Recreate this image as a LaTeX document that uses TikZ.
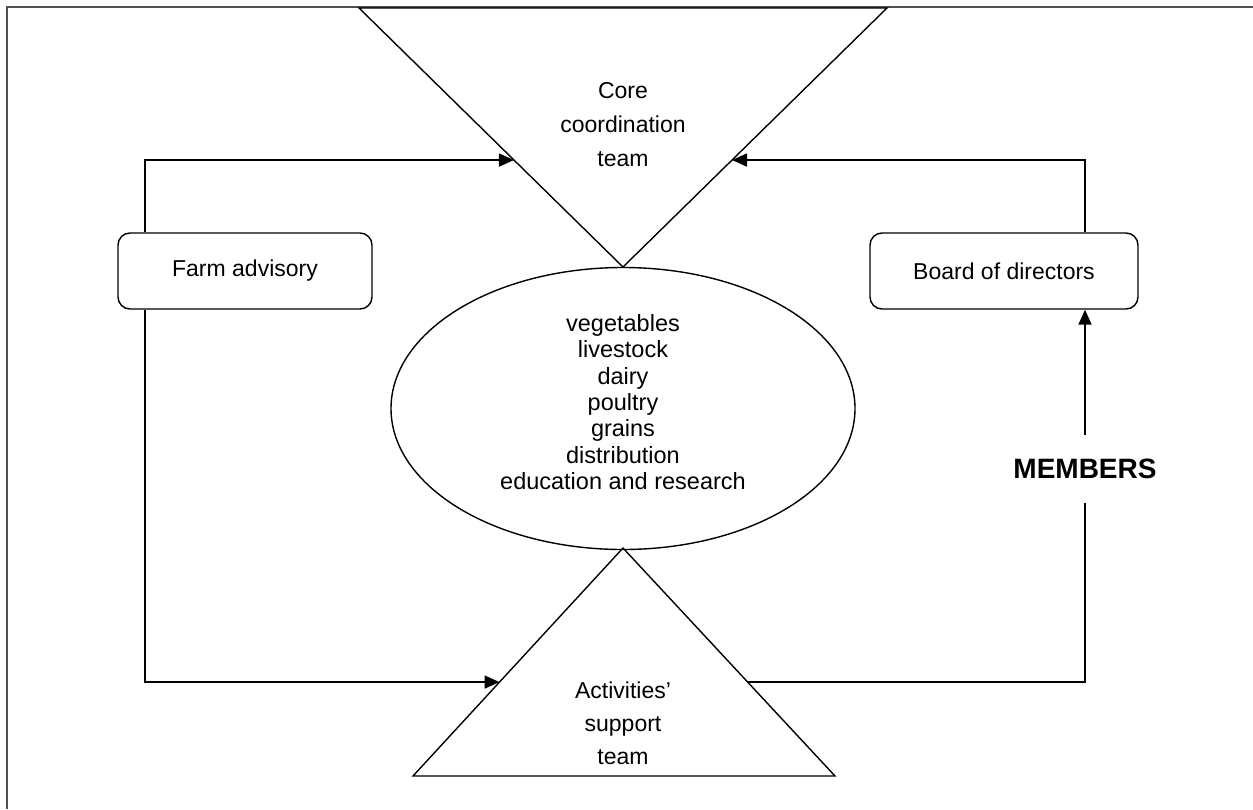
\documentclass[tikz,border=0pt]{standalone}
\usepackage{fontspec}
\setmainfont{Liberation Sans}
\usetikzlibrary{shapes.geometric,arrows.meta,calc}
\definecolor{framegray}{HTML}{505050}
\begin{document}
\begin{tikzpicture}[x=1pt,y=-1pt,
  conn/.style={line width=1.8pt},
  tip/.style={-{Triangle[length=15pt,width=13pt]}},
  shapeline/.style={line width=1.4pt},
  box/.style={draw,line width=1.4pt,rounded corners=12pt,minimum width=254pt,minimum height=76pt,font=\fontsize{23}{26}\selectfont},
  lbl/.style={align=center,font=\fontsize{23}{34}\selectfont}]
\useasboundingbox (0,0) rectangle (1253,809);
\fill[white] (0,0) rectangle (1253,809);
% frame
\draw[framegray,line width=2.4pt] (7,809) -- (7,7) -- (1253,7);
% top triangle
\coordinate (ctl) at (359,8);
\coordinate (ctr) at (887,8);
\coordinate (capex) at (623,267);
\draw[shapeline,line join=miter] (ctl) -- (ctr) -- (capex) -- cycle;
\node[lbl] (core) at (623,125) {Core\\coordination\\team};
% bottom triangle
\coordinate (abl) at (413,776);
\coordinate (abr) at (835,776);
\coordinate (aapex) at (623,548);
\draw[shapeline,line join=miter] (abl) -- (abr) -- (aapex) -- cycle;
\node[lbl,font=\fontsize{23}{33}\selectfont] (act) at (623,723) {Activities’\\support\\team};
% ellipse
\node[draw,ellipse,shapeline,minimum width=464pt,minimum height=282pt] (prod) at (623,408.5) {};
\node[align=center,font=\fontsize{23.5}{26.3}\selectfont] (prodtext) at (623,402) {vegetables\\livestock\\dairy\\poultry\\grains\\distribution\\education and research};
% boxes
\node[box] (farm) at (245,271) {Farm advisory};
\node[box,minimum width=268pt] (board) at (1004,271) {Board of directors};
% members
\node[font=\bfseries\fontsize{28}{30}\selectfont,inner ysep=24pt] (members) at (1085,469) {MEMBERS};
% edge points
\coordinate (coreL) at ($(ctl)!0.587!(capex)$);
\coordinate (coreR) at ($(ctr)!0.587!(capex)$);
\coordinate (actL) at ($(abl)!0.412!(aapex)$);
\coordinate (actR) at ($(abr)!0.412!(aapex)$);
% connectors
\draw[conn,tip] (farm.north -| 145,0) |- (coreL);
\draw[conn,tip] (farm.south -| 145,0) |- (actL);
\draw[conn,tip] (board.north -| 1085,0) |- (coreR);
\draw[conn] (actR) -| (members.south);
\draw[conn,tip] (members.north) -- (members.north |- board.south);
\end{tikzpicture}
\end{document}
